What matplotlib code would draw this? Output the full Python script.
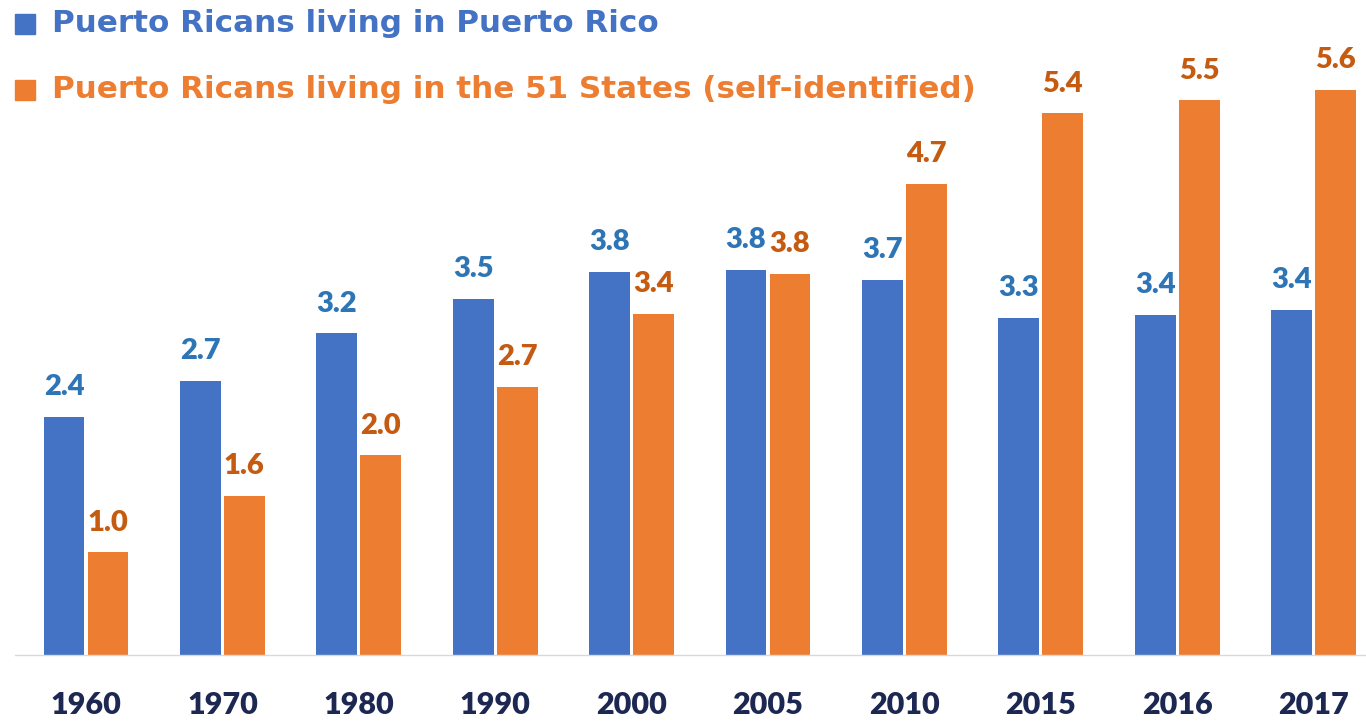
import matplotlib
matplotlib.use("Agg")
import matplotlib.pyplot as plt
import numpy as np

years = ["1960", "1970", "1980", "1990", "2000", "2005", "2010", "2015", "2016", "2017"]
pr_island = [2.36, 2.72, 3.19, 3.53, 3.80, 3.82, 3.72, 3.34, 3.37, 3.42]
pr_states = [1.02, 1.58, 1.98, 2.66, 3.38, 3.78, 4.67, 5.37, 5.50, 5.60]
legend_labels = ["Puerto Ricans living in Puerto Rico",
                 "Puerto Ricans living in the 51 States (self-identified)"]

BLUE = "#4472C4"
ORANGE = "#ED7D31"
BLUE_LBL = "#2E75B6"
ORANGE_LBL = "#C55A11"
TICK = "#1C2852"
FONT = "Lato"
LEG_FONT = "DejaVu Sans"

W, H = 1366, 721
fig = plt.figure(figsize=(W / 100, H / 100), dpi=100)
ax_left_px, base_px = 15, 655
ax = fig.add_axes([ax_left_px / W, (H - base_px) / H, (W - ax_left_px) / W, base_px / H])

spacing_px = 136.4
c0_px = 86
x0 = (ax_left_px - c0_px) / spacing_px
x1 = (W - c0_px) / spacing_px
ax.set_xlim(x0, x1)
ax.set_ylim(0, base_px / 100.9)

x = np.arange(len(years))
bw = 0.30
off = 0.161
b1 = ax.bar(x - off, pr_island, bw, color=BLUE)
b2 = ax.bar(x + off, pr_states, bw, color=ORANGE)

for bars, vals, col in [(b1, pr_island, BLUE_LBL), (b2, pr_states, ORANGE_LBL)]:
    for r, v in zip(bars, vals):
        ax.annotate(f"{v:.1f}", (r.get_x() + r.get_width() / 2, v),
                    xytext=(0, 15.5), textcoords="offset points",
                    ha="center", va="baseline", fontsize=21, fontweight="heavy",
                    color=col, family=FONT)

for s in ["top", "right", "left"]:
    ax.spines[s].set_visible(False)
ax.spines["bottom"].set_color("#D9D9D9")
ax.spines["bottom"].set_linewidth(1.0)
ax.set_yticks([])
ax.set_xticks(x)
ax.set_xticklabels(years, fontsize=22, fontweight="heavy", color=TICK, family=FONT)
ax.tick_params(axis="x", length=0, pad=26)

# legend
renderer = fig.canvas.get_renderer()
texts = []
for i, (lab, col) in enumerate(zip(legend_labels, [BLUE, ORANGE])):
    yc = 24 + i * 66
    fig.patches.append(plt.Rectangle((15 / W, 1 - (yc + 10) / H), 20 / W, 20 / H,
                                     transform=fig.transFigure, color=col))
    t = fig.text(52 / W, 1 - yc / H, lab, ha="left", va="center", fontsize=22,
                 fontweight="bold", color=col, family=LEG_FONT)
    texts.append(t)
# fit first legend line to the reference width (~603 px)
w0 = texts[0].get_window_extent(renderer).width
scale = 603.0 / w0
for t in texts:
    t.set_fontsize(22 * scale)

fig.savefig("out.png", dpi=100)
